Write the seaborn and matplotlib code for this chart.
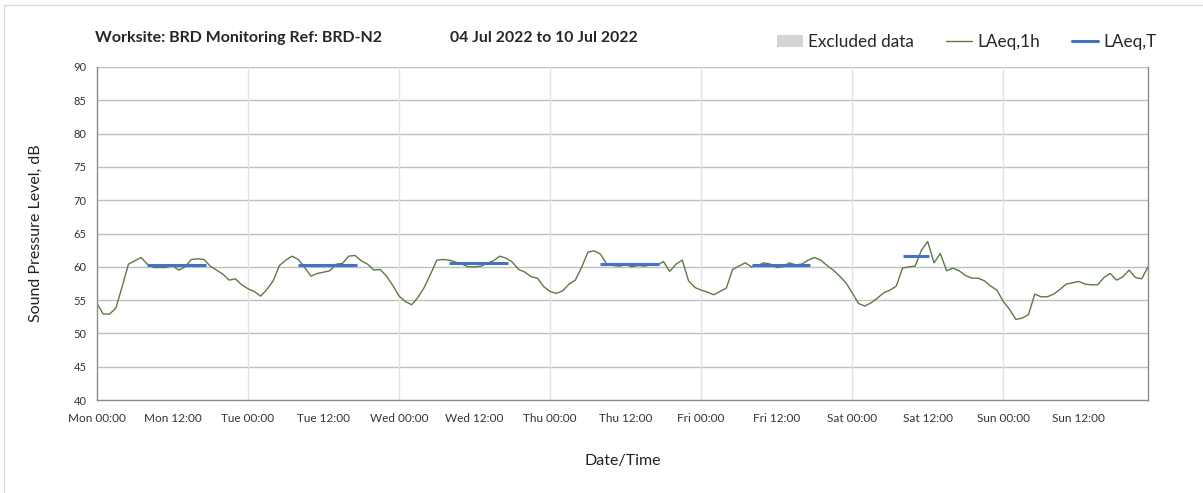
import pandas as pd
import matplotlib.pyplot as plt
import seaborn as sns
from matplotlib.patches import Patch, Rectangle
from matplotlib.lines import Line2D

# hourly LAeq,1h values, Mon 00:00 .. Sun 23:00
laeq_1h = [
    54.5, 52.9, 52.9, 53.8, 57.0, 60.4, 60.9, 61.4, 60.4, 59.9, 59.9, 59.9,
    60.2, 59.5, 60.0, 61.1, 61.2, 61.1, 60.1, 59.5, 58.9, 58.0, 58.2, 57.3,
    56.7, 56.3, 55.6, 56.6, 57.9, 60.2, 61.0, 61.6, 61.1, 59.9, 58.6, 59.0,
    59.2, 59.4, 60.4, 60.5, 61.6, 61.7, 60.9, 60.4, 59.5, 59.6, 58.6, 57.2,
    55.6, 54.8, 54.3, 55.4, 56.9, 58.9, 61.0, 61.1, 61.0, 60.7, 60.4, 60.0,
    60.0, 60.1, 60.5, 60.9, 61.6, 61.3, 60.7, 59.6, 59.2, 58.5, 58.3, 57.0,
    56.3, 56.0, 56.4, 57.4, 58.0, 59.9, 62.2, 62.4, 61.9, 60.4, 60.2, 60.1,
    60.3, 60.0, 60.2, 60.1, 60.3, 60.2, 60.8, 59.3, 60.4, 61.0, 57.9, 56.9,
    56.5, 56.2, 55.8, 56.3, 56.8, 59.6, 60.1, 60.6, 60.0, 60.2, 60.6, 60.4,
    59.9, 60.0, 60.6, 60.3, 60.4, 61.0, 61.4, 61.0, 60.2, 59.5, 58.6, 57.6,
    56.1, 54.5, 54.1, 54.6, 55.3, 56.1, 56.5, 57.1, 59.8, 60.0, 60.1, 62.5,
    63.8, 60.6, 62.0, 59.4, 59.8, 59.4, 58.7, 58.3, 58.3, 57.9, 57.1, 56.5,
    54.8, 53.6, 52.1, 52.3, 52.8, 55.9, 55.5, 55.5, 55.9, 56.6, 57.4, 57.6,
    57.8, 57.4, 57.3, 57.3, 58.4, 59.0, 58.0, 58.5, 59.5, 58.4, 58.2, 60.0,
]
hours = list(range(len(laeq_1h)))

# LAeq,T period levels (start hour, end hour, level)
period_start = [8, 32, 56, 80, 104, 128]
period_end = [17.3, 41.3, 65.3, 89.3, 113.3, 132.2]
period_level = [60.25, 60.25, 60.55, 60.4, 60.3, 61.65]

tick_labels = ["Mon 00:00", "Mon 12:00", "Tue 00:00", "Tue 12:00", "Wed 00:00",
               "Wed 12:00", "Thu 00:00", "Thu 12:00", "Fri 00:00", "Fri 12:00",
               "Sat 00:00", "Sat 12:00", "Sun 00:00", "Sun 12:00"]

df = pd.DataFrame({"hour": hours, "level": laeq_1h})

sns.set_style("white")
plt.rcParams["font.family"] = ["Lato", "DejaVu Sans"]

line_col = "#5b7a45"
blue = "#4472C4"

fig = plt.figure(figsize=(12.03, 4.93), dpi=100)
ax = fig.add_axes([0.0806, 0.1886, 0.8737, 0.6755])

# grid
for v in range(45, 95, 5):
    ax.axhline(v, color="#bfbfbf", lw=1, zorder=0)
for d in range(24, 168, 24):
    ax.axvline(d, color="#e3e3e3", lw=1, zorder=0)

sns.lineplot(data=df, x="hour", y="level", ax=ax, color=line_col, lw=1.0)

for s, e, lv in zip(period_start, period_end, period_level):
    ax.plot([s, e], [lv, lv], color=blue, lw=2.2, solid_capstyle="butt")

ax.set_xlim(0, 167)
ax.set_ylim(40, 90)
ax.set_yticks(range(40, 95, 5))
ax.set_xticks(range(0, 168, 12))
ax.set_xticklabels(tick_labels, fontsize=8.5, color="#333333")
ax.tick_params(axis="y", labelsize=8, colors="#333333", length=4, color="#888888")
ax.tick_params(axis="x", length=4, color="#888888", pad=5)
for s in ["left", "bottom", "right"]:
    ax.spines[s].set_color("#8c8c8c")
    ax.spines[s].set_linewidth(1)
ax.spines["top"].set_visible(False)

ax.set_xlabel("Date/Time", fontsize=11.5, labelpad=22, color="#222222")
ax.set_ylabel("Sound Pressure Level, dB", fontsize=11.5, labelpad=22, color="#222222")

fig.text(0.079, 0.923, "Worksite: BRD Monitoring Ref: BRD-N2", fontsize=11.5,
         fontweight="bold", va="center")
fig.text(0.374, 0.923, "04 Jul 2022 to 10 Jul 2022", fontsize=11.3,
         fontweight="bold", va="center")

handles = [Patch(facecolor="#d4d4d4", edgecolor="none"),
           Line2D([0], [0], color=line_col, lw=1),
           Line2D([0], [0], color=blue, lw=2.2)]
fig.legend(handles, ["Excluded data", "LAeq,1h", "LAeq,T"], ncol=3, frameon=False,
           loc="center right", bbox_to_anchor=(0.974, 0.915), fontsize=12.3,
           handlelength=1.5, handletextpad=0.3, columnspacing=1.9)

fig.patches.append(Rectangle((0.0035, -0.1), 1.2, 1.09, transform=fig.transFigure,
                             fill=False, edgecolor="#d9d9d9", lw=1))

fig.savefig("out.png", dpi=100)
